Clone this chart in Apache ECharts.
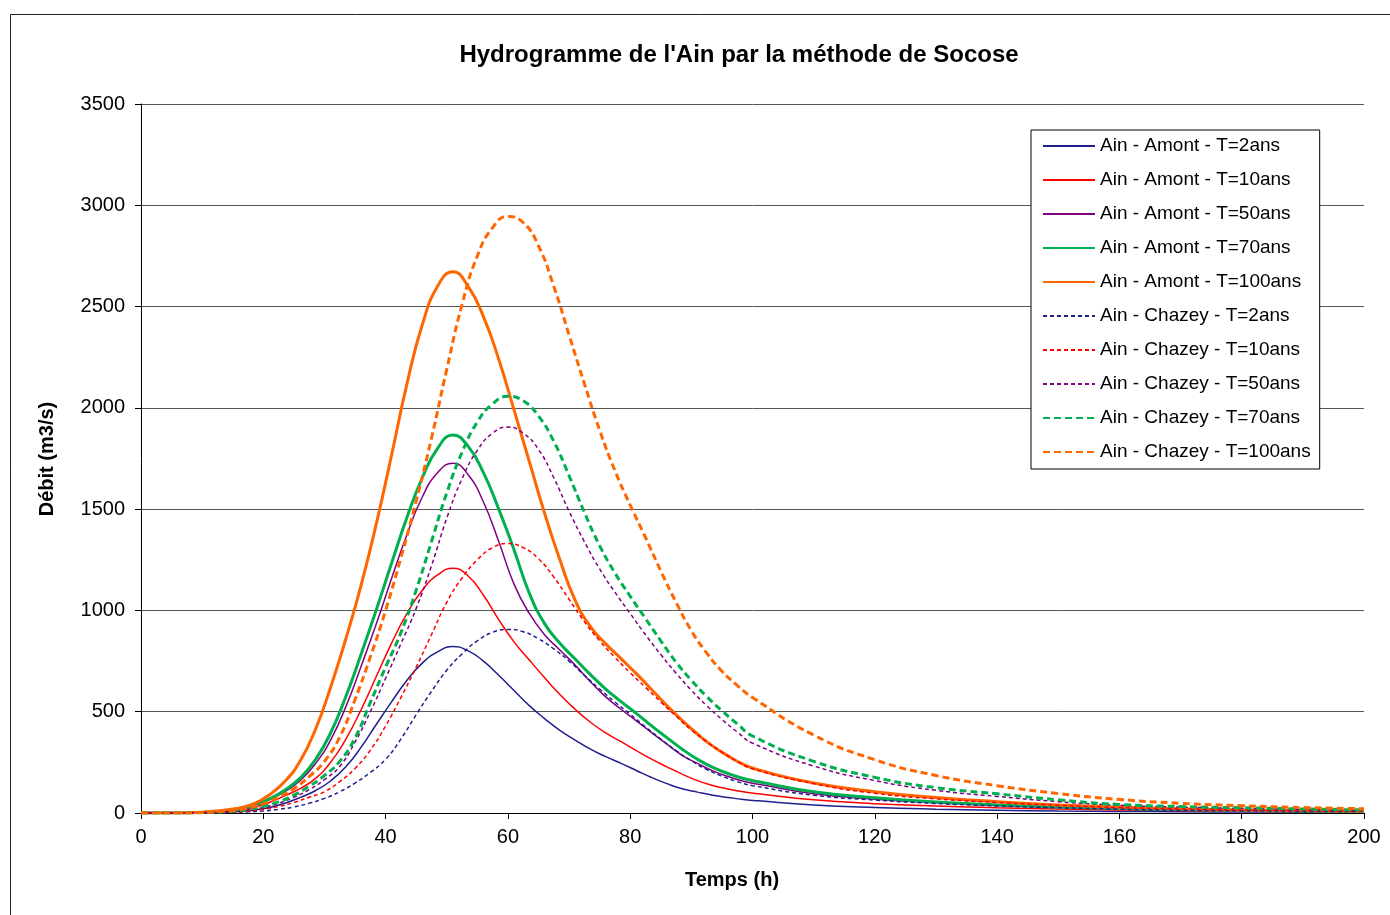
<!DOCTYPE html>
<html><head><meta charset="utf-8">
<script src="https://cdn.jsdelivr.net/npm/echarts@6/dist/echarts.min.js"></script>
<style>html,body{margin:0;padding:0;background:#fff}#c{width:1390px;height:915px}</style>
</head><body><div id="c"></div>
<script>
// Time (h) at which each station's curves were read
const timesAmont  = [0,5,10,16,18.5,21,23.5,26,28.5,31,33.5,36,38.5,41,43.5,46,48.5,51,53.5,56,58.5,61,63.5,66,68.5,71,73.5,76,78.5,81,83.5,86,88.5,91,93.5,96,98.5,101,110,120,130,140,150,160,170,180,190,200];
const timesChazey = [0,5,10,15,17.5,20,22.5,25,27.5,30,32.5,35,37.5,40,42.5,45,47.5,50,52.5,55,57.5,60,62.5,65,67.5,70,72.5,75,77.5,80,82.5,85,87.5,90,92.5,95,97.5,100,110,120,130,140,150,160,170,180,190,200];
// Débit (m3/s)
const amontT2   = [0,0,1,7,14,27,48,76,110,158,228,325,438,550,655,740,795,822,800,750,680,605,530,466,408,360,315,278,245,210,175,145,120,103,88,77,67,60,40,27,19,14,10,8,6,5,4,3];
const amontT10  = [0,0,2,12,28,52,85,120,170,250,365,510,675,840,985,1100,1175,1208,1170,1075,955,845,755,668,585,512,448,395,352,308,266,228,192,160,136,119,105,95,65,46,34,26,20,15,12,9,7,6];
const amontT50  = [0,0,3,17,36,65,105,160,242,360,525,725,935,1160,1375,1560,1680,1727,1670,1535,1340,1130,985,880,805,730,648,573,512,455,397,340,285,245,208,180,157,142,95,68,50,37,28,21,16,12,10,8];
const amontT70  = [0,0,3,19,40,70,112,172,262,395,575,785,1005,1235,1460,1655,1800,1866,1810,1680,1500,1300,1085,935,838,760,683,612,550,492,430,372,315,265,225,195,170,154,105,75,54,40,30,22,17,13,10,8];
const amontT100 = [0,0,4,24,46,90,155,255,410,620,860,1125,1430,1770,2120,2410,2600,2672,2600,2450,2240,1990,1735,1480,1250,1050,920,835,762,688,610,530,457,390,330,282,240,212,148,105,76,56,40,28,21,15,12,9];
const chazeyT2   = [0,0,1,3,6,10,18,30,48,72,105,148,200,265,365,485,600,705,785,850,892,906,895,860,810,750,680,612,548,488,425,365,308,258,215,182,155,135,88,64,47,35,26,19,14,11,9,7];
const chazeyT10  = [0,0,1,5,10,18,32,52,78,105,155,220,310,430,570,720,880,1040,1160,1250,1310,1330,1310,1255,1165,1055,945,850,768,692,620,548,478,410,352,300,255,218,145,97,70,52,38,27,20,15,12,9];
const chazeyT50  = [0,0,2,7,15,28,48,78,115,165,230,350,500,665,835,1010,1220,1455,1650,1790,1875,1905,1875,1795,1655,1490,1340,1205,1090,985,880,782,690,606,530,462,400,345,232,160,112,82,56,38,29,23,18,14];
const chazeyT70  = [0,0,2,9,18,33,55,88,132,185,255,370,545,720,890,1100,1340,1580,1780,1930,2020,2057,2035,1960,1835,1665,1485,1320,1185,1070,960,850,745,655,575,505,440,380,255,176,125,95,65,42,32,26,20,15];
const chazeyT100 = [0,0,3,12,25,45,78,120,180,255,375,560,770,1000,1260,1540,1850,2190,2510,2750,2890,2945,2915,2800,2600,2360,2120,1890,1690,1520,1360,1195,1040,900,790,700,630,570,385,263,185,135,96,67,48,36,27,21];

const xTicks = [0,20,40,60,80,100,120,140,160,180,200];
const yTicks = [0,500,1000,1500,2000,2500,3000,3500];

const FONT = "'Liberation Sans', Arial, sans-serif";
const NAVY = '#1f1f8f', RED = '#ff0000', PURPLE = '#800080', GREEN = '#00b050', ORANGE = '#ff6600';

const defs = [
  {name:'Ain - Amont - T=2ans',    t:timesAmont,  data:amontT2,    color:NAVY,   width:1.5, dash:'solid'},
  {name:'Ain - Amont - T=10ans',   t:timesAmont,  data:amontT10,   color:RED,    width:1.5, dash:'solid'},
  {name:'Ain - Amont - T=50ans',   t:timesAmont,  data:amontT50,   color:PURPLE, width:1.5, dash:'solid'},
  {name:'Ain - Amont - T=70ans',   t:timesAmont,  data:amontT70,   color:GREEN,  width:3,   dash:'solid'},
  {name:'Ain - Amont - T=100ans',  t:timesAmont,  data:amontT100,  color:ORANGE, width:3,   dash:'solid'},
  {name:'Ain - Chazey - T=2ans',   t:timesChazey, data:chazeyT2,   color:NAVY,   width:1.5, dash:[4,3]},
  {name:'Ain - Chazey - T=10ans',  t:timesChazey, data:chazeyT10,  color:RED,    width:1.5, dash:[4,3]},
  {name:'Ain - Chazey - T=50ans',  t:timesChazey, data:chazeyT50,  color:PURPLE, width:1.5, dash:[4,3]},
  {name:'Ain - Chazey - T=70ans',  t:timesChazey, data:chazeyT70,  color:GREEN,  width:3,   dash:[7,4]},
  {name:'Ain - Chazey - T=100ans', t:timesChazey, data:chazeyT100, color:ORANGE, width:3,   dash:[7,4]}
];

const chart = echarts.init(document.getElementById('c'), null, {renderer:'canvas'});
const option = {
  animation:false,
  backgroundColor:'#ffffff',
  grid:{left:141, top:104, width:1223, height:709, containLabel:false},
  xAxis:{
    type:'value', min:xTicks[0], max:xTicks[xTicks.length-1], interval:xTicks[1]-xTicks[0],
    axisLine:{show:true, onZero:false, lineStyle:{color:'#000', width:1}},
    axisTick:{show:true, length:6, lineStyle:{color:'#000'}},
    axisLabel:{fontSize:20, color:'#000', margin:14, fontFamily:FONT, formatter:v=>String(v)},
    splitLine:{show:false}
  },
  yAxis:{
    type:'value', min:yTicks[0], max:yTicks[yTicks.length-1], interval:yTicks[1]-yTicks[0],
    axisLine:{show:true, lineStyle:{color:'#000', width:1}},
    axisTick:{show:true, length:6, lineStyle:{color:'#000'}},
    axisLabel:{fontSize:20, color:'#000', margin:16, fontFamily:FONT, formatter:v=>String(v)},
    splitLine:{show:true, lineStyle:{color:'#555', width:1}}
  },
  legend:{
    orient:'vertical', left:1031, top:130,
    padding:[6,9,7,11], itemGap:14, itemWidth:52, itemHeight:14,
    backgroundColor:'#fff', borderColor:'#000', borderWidth:1,
    itemStyle:{opacity:0},
    textStyle:{fontSize:19, lineHeight:20, color:'#000', fontFamily:FONT},
    data: defs.map(d=>d.name)
  },
  graphic:[
    {type:'rect', silent:true, z:-10, shape:{x:10.5, y:14.5, width:1500, height:1000},
     style:{fill:'none', stroke:'#222', lineWidth:1}},
    {type:'text', silent:true, x:739, y:55,
     style:{text:"Hydrogramme de l'Ain par la méthode de Socose", font:"bold 24px "+FONT, fill:'#000', textAlign:'center', textVerticalAlign:'middle'}},
    {type:'text', silent:true, x:47, y:459, rotation:Math.PI/2,
     style:{text:'Débit (m3/s)', font:"bold 20px "+FONT, fill:'#000', textAlign:'center', textVerticalAlign:'middle'}},
    {type:'text', silent:true, x:732, y:880,
     style:{text:'Temps (h)', font:"bold 20px "+FONT, fill:'#000', textAlign:'center', textVerticalAlign:'middle'}}
  ],
  series: defs.map(d=>({
    name:d.name, type:'line', symbol:'none', showSymbol:false,
    smooth:0.5,
    data: d.t.map((t,i)=>[t, d.data[i]]),
    color:d.color,
    lineStyle:{color:d.color, width:d.width, type:d.dash},
    itemStyle:{color:d.color}
  }))
};
chart.setOption(option);
</script>
</body></html>
